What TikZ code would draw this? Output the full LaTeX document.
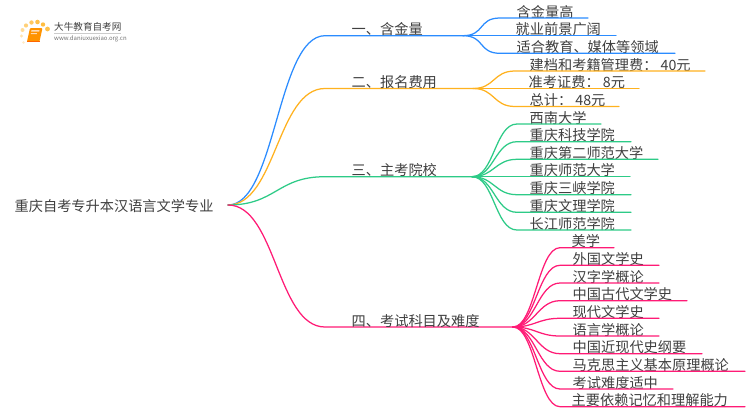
\documentclass[tikz,border=0pt]{standalone}
\usepackage{fontspec}
\setmainfont{Noto Sans CJK SC}[Scale=1]
\definecolor{cblue}{HTML}{2B8CFF}
\definecolor{corange}{HTML}{FFB21F}
\definecolor{cgreen}{HTML}{2DCB87}
\definecolor{cpink}{HTML}{FF1B76}
\definecolor{ctext}{HTML}{404040}
\tikzset{
  lbl/.style={anchor=west,inner sep=0pt,text=ctext,font=\fontsize{14.2}{16}\selectfont},
  conn/.style={line width=1.25pt,line cap=round}
}
\begin{document}
\begin{tikzpicture}[x=1pt,y=-1pt]
\useasboundingbox (0,0) rectangle (750,410);
\fill[white] (0,0) rectangle (750,410);
% logo
\foreach \px/\py/\r/\o in {23.5/42.5/1.3/.25,21.5/36/1.6/.35,22.5/30/2/.45,26/25.5/2.1/.6,31.5/22.5/2.2/.7,37.5/22/2.3/.8,43/24.5/2.2/.85,47.5/29/2.4/.8}
  \fill[corange,opacity=\o] (\px,\py) circle (\r);
\fill[orange!85!yellow,rounded corners=1pt] (30,28) -- (42.5,28) -- (39.5,41.5) -- (27,41.5) -- cycle;
\fill[white!70!orange] (31.5,30) -- (39.5,30) -- (39.2,31.5) -- (31.2,31.5) -- cycle;
\fill[white!70!orange] (31,33) -- (37,33) -- (36.8,34) -- (30.8,34) -- cycle;
\draw[orange!80!red,line width=0.6pt] (27,41.5) -- (39.5,41.5);
\node[inner sep=0pt,anchor=west,text=ctext,font=\fontsize{9.6}{11}\selectfont] (logotitle) at (54,27) {大牛教育自考网};
\coordinate (logoa) at (54,33.2);
\coordinate (logob) at (121,33.2);
\draw[black!20,line width=0.5pt] (logoa) -- (logob);
\node[inner sep=0pt,anchor=west,text=black!55,font=\fontsize{6}{7}\selectfont] (logourl) at (54,38.7) {www.daniuxuexiao.org.cn};
% root
\node[lbl] (root) at (14.5,205.6) {重庆自考专升本汉语言文学专业};
\coordinate (r) at (228,205);
% branches
\coordinate (j1) at (463,35.7);
\coordinate (j2) at (473,88.5);
\coordinate (j3) at (472,176.7);
\coordinate (j4) at (513,327);
\coordinate (b1) at (325,35.7);
\coordinate (b2) at (325,88.5);
\coordinate (b3) at (325,176.7);
\coordinate (b4) at (325,327);
\draw[conn,cblue] (r) .. controls (276,205) and (277,35.7) .. (b1) -- (j1);
\draw[conn,corange] (r) .. controls (276,205) and (277,88.5) .. (b2) -- (j2);
\draw[conn,cgreen] (r) .. controls (276,205) and (277,176.7) .. (b3) -- (j3);
\draw[conn,cpink] (r) .. controls (276,205) and (277,327) .. (b4) -- (j4);
\node[lbl] (n1) at (351.5,29.5) {一、含金量};
\node[lbl] (n2) at (351.5,82.3) {二、报名费用};
\node[lbl] (n3) at (351.5,170.5) {三、主考院校};
\node[lbl] (n4) at (351.5,320.8) {四、考试科目及难度};
% leaves: colour, name, junction, curve end x, y, line end x, text x, text
\newcommand{\leaf}[8]{%
  \coordinate (#2b) at (#4,#5);
  \coordinate (#2e) at (#6,#5);
  \node[lbl] (#2) at (#7,#5-6.3) {#8};
  \draw[conn,#1] (#3) .. controls ([xshift=22pt]#3) and ([xshift=-22pt]#2b) .. (#2b) -- (#2e);
}
\leaf{cblue}{a1}{j1}{500}{18}{588}{516.5}{含金量高}
\leaf{cblue}{a2}{j1}{500}{35.7}{616}{515.5}{就业前景广阔}
\leaf{cblue}{a3}{j1}{500}{53.3}{675}{516.5}{适合教育、媒体等领域}
\leaf{corange}{c1}{j2}{515}{71}{705}{529.5}{建档和考籍管理费： 40元}
\leaf{corange}{c2}{j2}{515}{88.5}{639}{528.5}{准考证费： 8元}
\leaf{corange}{c3}{j2}{515}{106.5}{619}{529.5}{总计： 48元}
\leaf{cgreen}{g1}{j3}{517}{124}{601}{529.5}{西南大学}
\leaf{cgreen}{g2}{j3}{517}{141.7}{631}{529.5}{重庆科技学院}
\leaf{cgreen}{g3}{j3}{517}{159.3}{658}{529.5}{重庆第二师范大学}
\leaf{cgreen}{g4}{j3}{517}{176.7}{630}{529.5}{重庆师范大学}
\leaf{cgreen}{g5}{j3}{517}{194.7}{631}{529.5}{重庆三峡学院}
\leaf{cgreen}{g6}{j3}{517}{212.3}{631}{529.5}{重庆文理学院}
\leaf{cgreen}{g7}{j3}{517}{230}{631}{529.5}{长江师范学院}
\leaf{cpink}{p1}{j4}{560}{247.7}{614}{571.5}{美学}
\leaf{cpink}{p2}{j4}{560}{265.3}{659}{572.5}{外国文学史}
\leaf{cpink}{p3}{j4}{560}{283}{659}{572.5}{汉字学概论}
\leaf{cpink}{p4}{j4}{560}{300.7}{687}{572.5}{中国古代文学史}
\leaf{cpink}{p5}{j4}{560}{318.3}{659}{572.5}{现代文学史}
\leaf{cpink}{p6}{j4}{560}{336}{659}{572.5}{语言学概论}
\leaf{cpink}{p7}{j4}{560}{353.7}{702}{572.5}{中国近现代史纲要}
\leaf{cpink}{p8}{j4}{560}{371.3}{745}{572.5}{马克思主义基本原理概论}
\leaf{cpink}{p9}{j4}{560}{389}{673}{572.5}{考试难度适中}
\leaf{cpink}{p10}{j4}{560}{406.7}{745}{571.5}{主要依赖记忆和理解能力}
\end{tikzpicture}
\end{document}
